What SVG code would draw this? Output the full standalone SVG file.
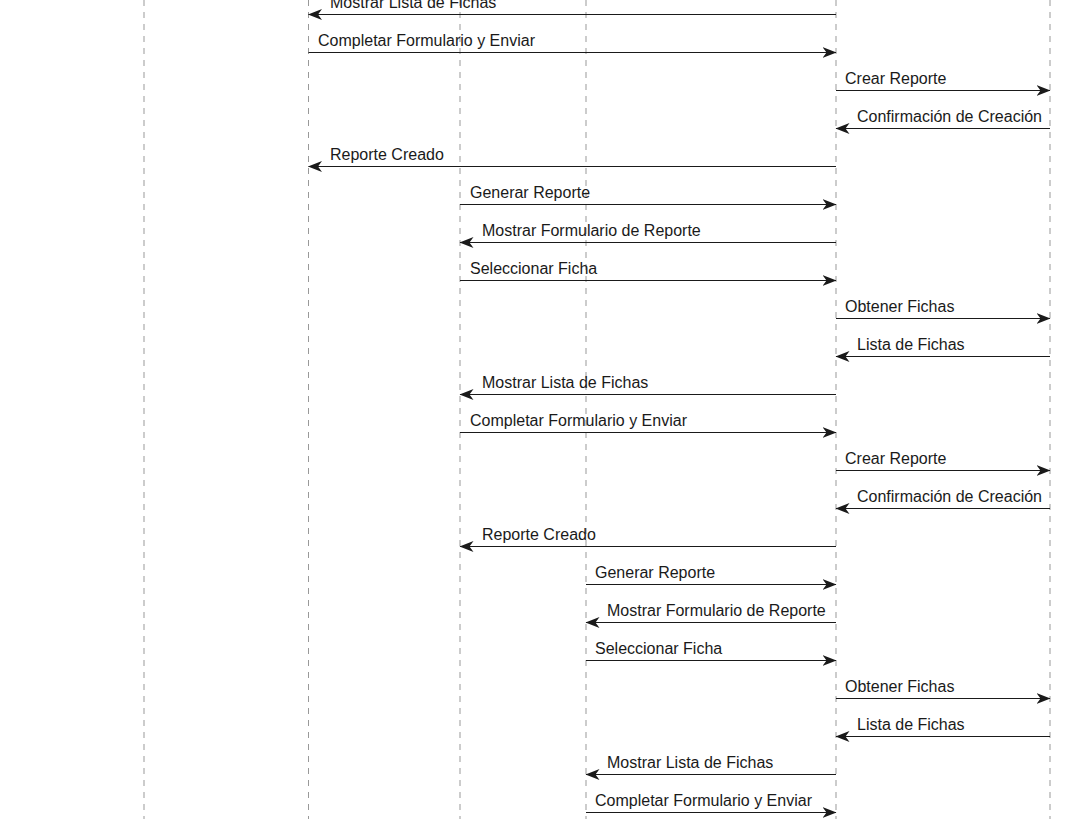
<svg xmlns="http://www.w3.org/2000/svg" width="1090" height="819" viewBox="0 0 1090 819">
<style>
.life{stroke:#999;stroke-width:1;stroke-dasharray:6 6;fill:none}
.msg{stroke:#1a1a1a;stroke-width:1;fill:none;marker-end:url(#arr)}
.lbl{font-family:"Liberation Sans",Arial,sans-serif;font-size:16px;fill:#1a1a1a}
</style>
<defs>
<marker id="arr" markerUnits="userSpaceOnUse" markerWidth="15" markerHeight="12" refX="13.5" refY="5.5" orient="auto">
<path d="M0,0 L14,5.5 L0,11 L4,5.5 Z" fill="#1a1a1a"/>
</marker>
</defs>
<rect width="1090" height="819" fill="#fff"/>
<g id="lifeline-1"><line class="life" x1="144" y1="0" x2="144" y2="819"/></g>
<g id="lifeline-2"><line class="life" x1="308.5" y1="0" x2="308.5" y2="819"/></g>
<g id="lifeline-3"><line class="life" x1="460" y1="0" x2="460" y2="819"/></g>
<g id="lifeline-4"><line class="life" x1="586" y1="0" x2="586" y2="819"/></g>
<g id="lifeline-5"><line class="life" x1="836" y1="0" x2="836" y2="819"/></g>
<g id="lifeline-6"><line class="life" x1="1050" y1="0" x2="1050" y2="819"/></g>
<g id="connectors">
<line class="msg" x1="836" y1="14.5" x2="308.5" y2="14.5"/><text class="lbl" x="330" y="7.5">Mostrar Lista de Fichas</text>
<line class="msg" x1="308.5" y1="52.5" x2="836" y2="52.5"/><text class="lbl" x="318" y="45.5">Completar Formulario y Enviar</text>
<line class="msg" x1="836" y1="90.5" x2="1050" y2="90.5"/><text class="lbl" x="845" y="83.5">Crear Reporte</text>
<line class="msg" x1="1050" y1="128.5" x2="836" y2="128.5"/><text class="lbl" x="857" y="121.5">Confirmación de Creación</text>
<line class="msg" x1="836" y1="166.5" x2="308.5" y2="166.5"/><text class="lbl" x="330" y="159.5">Reporte Creado</text>
<line class="msg" x1="460" y1="204.5" x2="836" y2="204.5"/><text class="lbl" x="470" y="197.5">Generar Reporte</text>
<line class="msg" x1="836" y1="242.5" x2="460" y2="242.5"/><text class="lbl" x="482" y="235.5">Mostrar Formulario de Reporte</text>
<line class="msg" x1="460" y1="280.5" x2="836" y2="280.5"/><text class="lbl" x="470" y="273.5">Seleccionar Ficha</text>
<line class="msg" x1="836" y1="318.5" x2="1050" y2="318.5"/><text class="lbl" x="845" y="311.5">Obtener Fichas</text>
<line class="msg" x1="1050" y1="356.5" x2="836" y2="356.5"/><text class="lbl" x="857" y="349.5">Lista de Fichas</text>
<line class="msg" x1="836" y1="394.5" x2="460" y2="394.5"/><text class="lbl" x="482" y="387.5">Mostrar Lista de Fichas</text>
<line class="msg" x1="460" y1="432.5" x2="836" y2="432.5"/><text class="lbl" x="470" y="425.5">Completar Formulario y Enviar</text>
<line class="msg" x1="836" y1="470.5" x2="1050" y2="470.5"/><text class="lbl" x="845" y="463.5">Crear Reporte</text>
<line class="msg" x1="1050" y1="508.5" x2="836" y2="508.5"/><text class="lbl" x="857" y="501.5">Confirmación de Creación</text>
<line class="msg" x1="836" y1="546.5" x2="460" y2="546.5"/><text class="lbl" x="482" y="539.5">Reporte Creado</text>
<line class="msg" x1="586" y1="584.5" x2="836" y2="584.5"/><text class="lbl" x="595" y="577.5">Generar Reporte</text>
<line class="msg" x1="836" y1="622.5" x2="586" y2="622.5"/><text class="lbl" x="607" y="615.5">Mostrar Formulario de Reporte</text>
<line class="msg" x1="586" y1="660.5" x2="836" y2="660.5"/><text class="lbl" x="595" y="653.5">Seleccionar Ficha</text>
<line class="msg" x1="836" y1="698.5" x2="1050" y2="698.5"/><text class="lbl" x="845" y="691.5">Obtener Fichas</text>
<line class="msg" x1="1050" y1="736.5" x2="836" y2="736.5"/><text class="lbl" x="857" y="729.5">Lista de Fichas</text>
<line class="msg" x1="836" y1="774.5" x2="586" y2="774.5"/><text class="lbl" x="607" y="767.5">Mostrar Lista de Fichas</text>
<line class="msg" x1="586" y1="812.5" x2="836" y2="812.5"/><text class="lbl" x="595" y="805.5">Completar Formulario y Enviar</text>
</g>
</svg>
